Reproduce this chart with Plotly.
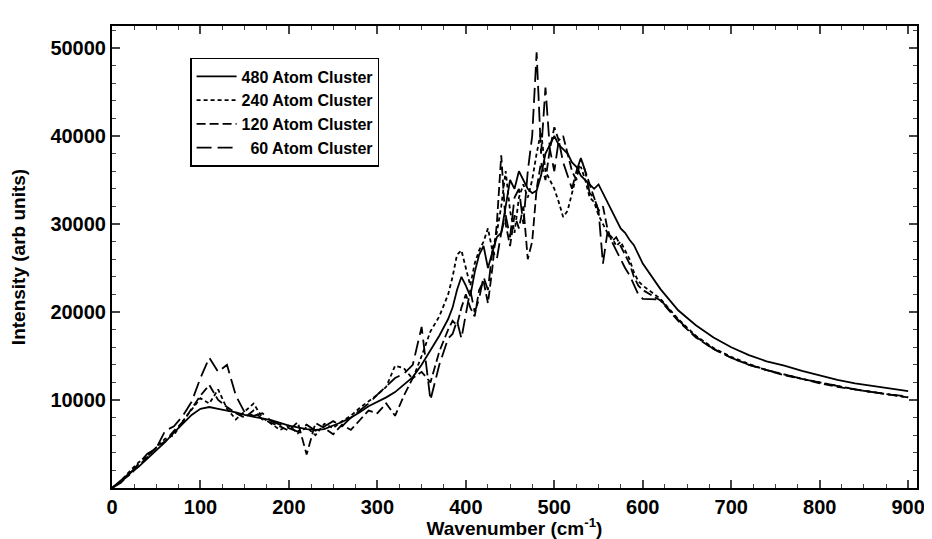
import plotly.graph_objects as go

# Wavenumber grid (cm-1)
wavenumber = [0, 10, 20, 30, 40, 50, 60, 70, 80, 90, 100, 110, 120, 130, 140, 150, 160, 170, 180, 190,
              200, 210, 220, 230, 240, 250, 260, 270, 280, 290, 300, 310, 320, 330, 340, 350, 360, 370, 380,
              385, 390, 395, 400, 405, 410, 415, 420, 425, 430, 435, 440, 445, 450, 455, 460, 465, 470, 475,
              480, 485, 490, 495, 500, 505, 510, 515, 520, 525, 530, 535, 540, 545, 550, 555, 560, 565, 570,
              575, 580, 585, 590, 595, 600,
              620, 640, 660, 680, 700, 720, 740, 760, 780, 800, 820, 840, 860, 880, 900]

atom480 = [0, 900, 1700, 2400, 3300, 4300, 5200, 6300, 7300, 8300, 9000, 9200, 9000, 8800, 8600, 8300, 8100, 7900, 7700, 7400,
           7100, 6900, 6700, 6600, 6700, 7100, 7500, 8000, 8600, 9300, 9800, 10300, 10900, 11700, 12600, 14000, 15600, 17300, 19200,
           20500, 22500, 24000, 23000, 21800, 24500, 26500, 27500, 25000, 26800, 28500, 29000, 32000, 35000, 34000, 36000, 35000, 34000, 33500,
           33800, 35500, 38000, 39000, 40000, 39000, 38500, 38000, 37000, 36500, 35500, 35000, 34500, 34000, 34500, 33500, 32500, 31500, 30500,
           29500, 29000, 28200, 27600, 26500, 25500,
           22600, 20200, 18500, 17100, 16000, 15100, 14400, 13900, 13300, 12800, 12300, 11900, 11600, 11300, 11000]

atom240 = [0, 800, 1900, 2900, 3600, 4600, 5600, 6000, 7600, 8900, 10200, 9600, 11200, 9000, 7800, 8700, 9600, 8000, 7300, 6600,
           7100, 6200, 6900, 6000, 7300, 6800, 7600, 8200, 9100, 9800, 10600, 11500, 13900, 13600, 12400, 15000, 17800, 19500, 22000,
           24000, 26500, 27000, 25000, 23000, 25500, 27000, 28000, 29500, 27000, 29000, 32000, 36000, 31500, 29000, 33000, 34500, 33000, 35000,
           38000, 40500, 36000, 35000, 34000, 32500, 30800, 31500, 33500, 35500, 36500, 35000, 33000, 32500, 31000, 30000, 29000, 28500, 27500,
           28000, 27000, 26000, 24500, 23500, 23000,
           21500, 19200, 17300, 15900, 14900, 14100, 13400, 12900, 12400, 12000, 11600, 11200, 10900, 10600, 10300]

atom120 = [0, 700, 1500, 2500, 3500, 4600, 5300, 6500, 7500, 9000, 10500, 11700, 10000, 9200, 8500, 8000, 8800, 7800, 7400, 7000,
           6500, 7500, 3800, 7400, 6800, 6100, 7200, 6600, 7700, 8800, 8500, 9600, 8200, 10500, 12500, 13200, 12000, 15500, 18000,
           19000, 18500, 20500, 22000, 20500, 19500, 22500, 23500, 21000, 25000, 30000, 37800, 30000, 27500, 31000, 29500, 32000, 26000, 28000,
           34000, 37000, 35000, 38500, 41000, 39500, 40000, 38000, 36000, 35000, 37500, 36000, 34500, 33000, 31500, 32000, 29500, 28000, 28500,
           27500, 26500, 25500, 24000, 23000, 22500,
           21300, 19000, 17100, 15800, 14800, 14000, 13400, 12800, 12400, 11900, 11500, 11200, 10900, 10600, 10300]

atom60 = [0, 600, 1600, 2800, 3900, 4500, 6500, 7000, 8200, 9800, 12500, 14800, 13200, 14000, 10500, 8600, 8200, 8500, 7600, 7200,
          6800, 6400, 7200, 6500, 7000, 7600, 7000, 8000, 8800, 9600, 10600, 11500, 12500, 13000, 14000, 18300, 10000, 14000, 17000,
          17500, 19000, 17000, 20000, 22500, 20000, 21500, 24000, 22500, 27000, 26000, 29000, 31000, 28500, 33000, 34000, 30000, 36000, 40000,
          49500, 38000, 45500, 38500, 36000, 39500, 37000, 35500, 34000, 36000, 37500, 36000, 33500, 33000, 31500, 25500, 29000, 28000, 27000,
          26000, 25000, 24200, 23000, 22000, 21500,
          21400, 19100, 17200, 15800, 14800, 14000, 13400, 12900, 12400, 12000, 11600, 11200, 10900, 10600, 10400]

series = [
    ("480 Atom Cluster", atom480, "solid"),
    ("240 Atom Cluster", atom240, "4px,3px"),
    ("120 Atom Cluster", atom120, "9px,4px"),
    ("\u00a0\u00a060 Atom Cluster", atom60, "15px,6px"),
]

x_ticks = [0, 100, 200, 300, 400, 500, 600, 700, 800, 900]
y_ticks = [10000, 20000, 30000, 40000, 50000]

FONT = "Liberation Sans, Arial, Helvetica, sans-serif"

fig = go.Figure()
for name, vals, dash in series:
    fig.add_trace(go.Scatter(x=wavenumber, y=vals, mode="lines", name=name,
                             line=dict(color="black", width=1.8, dash=dash)))

# page has an 8px body margin, so the figure is 8px smaller than the window
fig.update_layout(
    width=924, height=531,
    margin=dict(l=104, r=15, t=18, b=51, autoexpand=False),
    paper_bgcolor="white", plot_bgcolor="white",
    font=dict(family=FONT, color="black", size=19, weight="bold"),
    showlegend=True,
    legend=dict(x=0.097, y=0.931, xanchor="left", yanchor="top",
                bordercolor="black", borderwidth=1.5, bgcolor="white",
                font=dict(family=FONT, size=16, color="black", weight="bold"),
                tracegroupgap=0, itemwidth=40),
)
fig.update_xaxes(range=[0, 910], tickvals=x_ticks, ticktext=[str(v) for v in x_ticks],
                 ticks="inside", ticklen=8, tickwidth=1.5, automargin=False,
                 showline=True, linecolor="black", linewidth=2, mirror="ticks",
                 showgrid=False, zeroline=False,
                 minor=dict(dtick=25, ticks="inside", ticklen=4, tickwidth=1.2, showgrid=False),
                 title=dict(text="Wavenumber (cm<sup>-1</sup>)", standoff=0,
                            font=dict(family=FONT, size=19, weight="bold")),
                 tickfont=dict(family=FONT, size=20, weight="bold"))
fig.update_yaxes(range=[0, 52500], tickvals=y_ticks, ticktext=[str(v) for v in y_ticks],
                 ticks="inside", ticklen=8, tickwidth=1.5, automargin=False,
                 showline=True, linecolor="black", linewidth=2, mirror="ticks",
                 showgrid=False, zeroline=False,
                 minor=dict(dtick=2000, ticks="inside", ticklen=4, tickwidth=1.2, showgrid=False),
                 title=dict(text="Intensity (arb units)", standoff=22,
                            font=dict(family=FONT, size=19, weight="bold")),
                 tickfont=dict(family=FONT, size=20, weight="bold"))

fig.write_html("out.html")
